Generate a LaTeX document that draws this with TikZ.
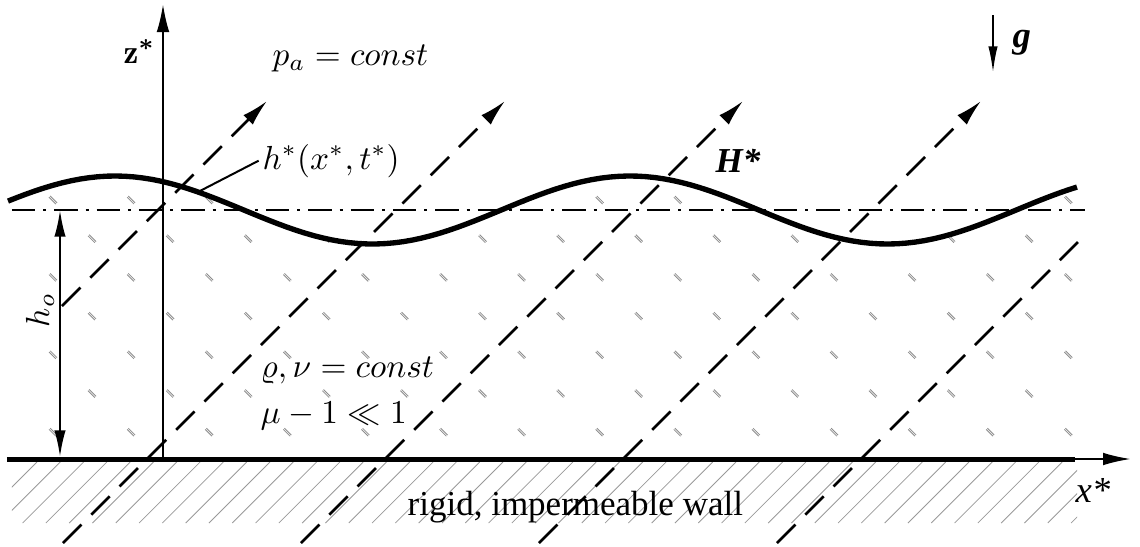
\documentclass[tikz,border=0pt]{standalone}
\usepackage{amsmath}
\usepackage{amssymb}
\usepackage{fontspec}
\newfontfamily\wallfont{Liberation Serif}
\usepackage{tikz}
\usetikzlibrary{arrows.meta}

\begin{document}
\begin{tikzpicture}[x=0.3pt,y=-0.3pt,
        axisline/.style={line width=0.65pt,-{Latex[length=8.4pt,width=3.8pt]}},
        fieldline/.style={line width=0.75pt,dash pattern=on 7.8pt off 4.2pt},
        levelline/.style={line width=0.6pt,dash pattern=on 7pt off 2.4pt on 0.9pt off 2.4pt},
        hatchline/.style={black!40,line width=0.25pt},
        fluidmark/.style={black!45,line width=0.25pt},
        lbl/.style={inner sep=0pt}]
    \useasboundingbox (0,0) rectangle (1140,547);

    \coordinate (O) at (163,459);
    \coordinate (ztip) at (163,4);
    \coordinate (wallL) at (7,459);
    \coordinate (wallR) at (1075,459);
    \coordinate (xtip) at (1131,459);

    % hatching of the wall
    \begin{scope}
        \clip (12,462) rectangle (1077,523);
        \foreach \k in {0,...,47}
            \draw[hatchline] ({37+23.3*\k-61},523) -- ({37+23.3*\k},462);
    \end{scope}

    % marks in the fluid
    \begin{scope}
        \clip plot[domain=8:1077,samples=120] (\x,{210-34*cos((\x-115)*0.699)})
            -- (1077,459) -- (8,459) -- cycle;
        \foreach \r in {0,...,6}{
            \pgfmathsetmacro\my{200+38.7*\r}
            \pgfmathsetmacro\mx{53+39*mod(\r,2)}
            \foreach \c in {0,...,13}
                \draw[fluidmark,shift={(\mx+78.1*\c,\my)}]
                    (-4,-2.8) -- (2.8,4) (-2.8,-4) -- (4,2.8);
        }
    \end{scope}

    % field lines
    \foreach \i/\xa/\ya/\xb/\yb/\tipped in {
        1/62/306/267/101/1,
        2/63/543/505/101/1,
        3/301/543/743/101/1,
        4/539/543/981/101/1,
        5/777/543/1078/242/0
    }{
        \coordinate (f\i s) at (\xa,\ya);
        \coordinate (f\i e) at (\xb,\yb);
        \ifnum\tipped=1
            \draw[fieldline,-{Latex[length=8pt,width=4pt]}] (f\i s) -- (f\i e);
        \else
            \draw[fieldline] (f\i s) -- (f\i e);
        \fi
    }

    % wall and axes
    \draw[line width=1.5pt] (wallL) -- (wallR);
    \draw[axisline] (wallR) -- (xtip);
    \draw[axisline] (O) -- (ztip);

    % mean level and free surface
    \coordinate (levL) at (12,210);
    \coordinate (levR) at (1085,210);
    \draw[levelline] (levL) -- (levR);
    \draw[line width=1.6pt] plot[domain=8:1077,samples=120] (\x,{210-34*cos((\x-115)*0.699)});

    % depth
    \coordinate (hlevel) at (60,210);
    \coordinate (hwall) at (60,457);
    \draw[line width=0.65pt,{Latex[length=8pt,width=3.4pt]}-{Latex[length=8pt,width=3.4pt]}] (hlevel) -- (hwall);
    \node[lbl,rotate=90] (h0lab) at (40,310) {$h_o$};

    % gravity
    \coordinate (gtop) at (993,15);
    \coordinate (gtip) at (993,73);
    \draw[line width=0.65pt,-{Latex[length=8pt,width=2.8pt]}] (gtop) -- (gtip);
    \node[lbl,anchor=base west] (glab) at (1012,47) {\wallfont\fontsize{11}{13}\selectfont\bfseries\itshape g};

    % labels
    \node[lbl,anchor=base east] (zlab) at (156,63) {$\mathbf{z}^{\boldsymbol{*}}$};
    \node[lbl,anchor=base west] (xlab) at (1075,502) {\wallfont\fontsize{11}{13}\selectfont\itshape x*};
    \node[lbl,anchor=base west] (pa) at (272,65) {$p_a = const$};
    \node[lbl,anchor=base west] (hlab) at (262,169) {$h^*(x^*,t^*)$};
    \coordinate (hpt) at (198,192);
    \draw[line width=0.6pt] (hpt) -- ([xshift=-1pt]hlab.west);
    \node[lbl,anchor=base west] (Hlab) at (715,172) {\wallfont\fontsize{10.5}{12}\selectfont\bfseries\itshape H*};
    \node[lbl,anchor=base west] (rho) at (260,377) {$\varrho, \nu = const$};
    \node[lbl,anchor=base west] (mu) at (260,423) {$\mu - 1 \ll 1$};
    \node[lbl,anchor=base west] (wlab) at (407,515) {\wallfont\fontsize{10.5}{12}\selectfont rigid, impermeable wall};
\end{tikzpicture}
\end{document}
